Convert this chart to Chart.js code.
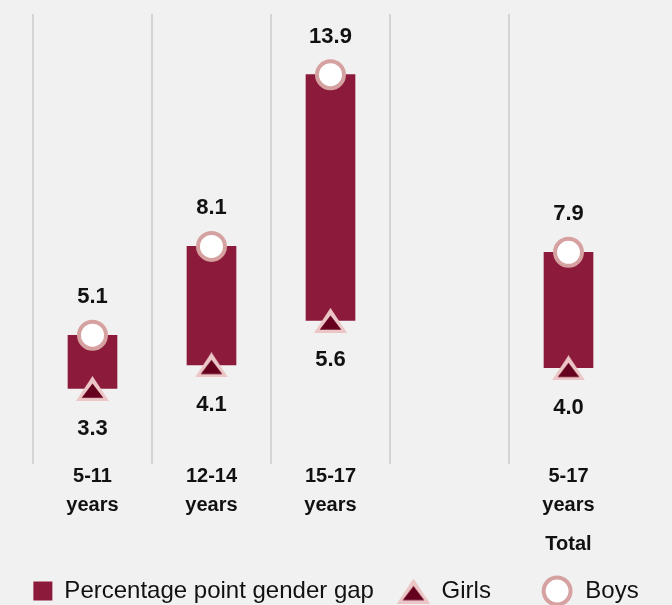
<!DOCTYPE html>
<html>
<head>
<meta charset="utf-8">
<script src="https://cdn.jsdelivr.net/npm/chart.js@4.4.0/dist/chart.umd.min.js"></script>
<style>
  html, body { margin: 0; padding: 0; background: #f1f1f1; }
  #wrap { width: 672px; height: 605px; }
</style>
</head>
<body>
<div id="wrap"><canvas id="myChart" width="672" height="605"></canvas></div>
<script>
// data
var categories = [['5-11', 'years'], ['12-14', 'years'], ['15-17', 'years'], '', ['5-17', 'years']];
var girls = [3.3, 4.1, 5.6, null, 4.0];
var boys = [5.1, 8.1, 13.9, null, 7.9];
var groupLabels = ['', '', '', '', 'Total'];
var seriesNames = ['Percentage point gender gap', 'Girls', 'Boys'];

var FONT = '"Liberation Sans", Arial, sans-serif';

var gaps = girls.map(function (g, i) {
  return g == null ? null : [g, boys[i]];
});

// triangle marker with a pale outline, centred on its box
function makeTriangle() {
  var c = document.createElement('canvas');
  c.width = 33;
  c.height = 25;
  var t = c.getContext('2d');
  t.fillStyle = '#ecc6c6';
  t.beginPath();
  t.moveTo(16.5, 0); t.lineTo(33, 25); t.lineTo(0, 25);
  t.closePath();
  t.fill();
  t.fillStyle = '#65001f';
  t.beginPath();
  t.moveTo(16.5, 7.4); t.lineTo(27.3, 21.7); t.lineTo(5.7, 21.7);
  t.closePath();
  t.fill();
  return c;
}
var triangle = makeTriangle();

// value labels + "Total" under the last group
var valueLabels = {
  id: 'valueLabels',
  afterDatasetsDraw: function (chart) {
    var ctx = chart.ctx;
    ctx.save();
    ctx.fillStyle = '#111';
    ctx.textAlign = 'center';
    ctx.textBaseline = 'middle';
    ctx.font = 'bold 22px ' + FONT;
    chart.getDatasetMeta(2).data.forEach(function (pt, i) {
      if (boys[i] == null) return;
      ctx.fillText(boys[i].toFixed(1), pt.x, pt.y - 38);
    });
    chart.getDatasetMeta(1).data.forEach(function (pt, i) {
      if (girls[i] == null) return;
      ctx.fillText(girls[i].toFixed(1), pt.x, pt.y + 40);
    });
    var xs = chart.scales.x;
    ctx.font = 'bold 20px ' + FONT;
    groupLabels.forEach(function (t, i) {
      if (t) ctx.fillText(t, xs.getPixelForValue(i), 544);
    });
    ctx.restore();
  }
};

var ctx = document.getElementById('myChart').getContext('2d');
var chart = new Chart(ctx, {
  data: {
    labels: categories,
    datasets: [
      {
        type: 'bar',
        label: seriesNames[0],
        data: gaps,
        backgroundColor: '#8c1a3a',
        barThickness: 49,
        pointStyle: 'rect',
        order: 3
      },
      {
        type: 'line',
        label: seriesNames[1],
        data: girls,
        showLine: false,
        pointStyle: triangle,
        pointRadius: 14,
        pointHoverRadius: 14,
        order: 2
      },
      {
        type: 'line',
        label: seriesNames[2],
        data: boys,
        showLine: false,
        pointStyle: 'circle',
        pointRadius: 13.5,
        pointHoverRadius: 13.5,
        pointBackgroundColor: '#ffffff',
        pointBorderColor: '#d6a1a1',
        pointBorderWidth: 4,
        order: 1
      }
    ]
  },
  options: {
    responsive: false,
    animation: false,
    layout: { autoPadding: false, padding: { left: 0, right: 0, top: 14, bottom: -8 } },
    scales: {
      x: {
        grid: {
          offset: true,
          drawTicks: false,
          color: function (c) { return c.type === 'tick' ? '#d4d4d4' : 'rgba(0,0,0,0)'; },
          lineWidth: 2
        },
        border: { display: false },
        ticks: {
          padding: -2,
          color: '#111',
          font: { family: FONT, size: 20, weight: 'bold', lineHeight: 1.45 },
          maxRotation: 0,
          autoSkip: false
        },
        afterFit: function (scale) { scale.height = 85; }
      },
      y: {
        min: 0.75,
        max: 15.95,
        grid: { display: false },
        border: { display: false },
        ticks: { display: false },
        afterFit: function (scale) { scale.width = 33; }
      },
      yRight: {
        position: 'right',
        grid: { display: false },
        border: { display: false },
        ticks: { display: false },
        afterFit: function (scale) { scale.width = 44; }
      }
    },
    plugins: {
      tooltip: { enabled: false },
      legend: {
        position: 'bottom',
        labels: {
          usePointStyle: true,
          boxWidth: 19,
          boxHeight: 19,
          padding: 30,
          color: '#111',
          font: { family: FONT, size: 24 },
          generateLabels: function (chart) {
            var items = Chart.defaults.plugins.legend.labels.generateLabels(chart);
            items.forEach(function (it) {
              it.pointStyle = chart.data.datasets[it.datasetIndex].pointStyle;
              if (it.datasetIndex === 1) it.text = ' ' + it.text + '    ';
              if (it.datasetIndex === 2) it.text = ' ' + it.text;
            });
            return items.sort(function (a, b) { return a.datasetIndex - b.datasetIndex; });
          }
        }
      }
    }
  },
  plugins: [valueLabels]
});
</script>
</body>
</html>
